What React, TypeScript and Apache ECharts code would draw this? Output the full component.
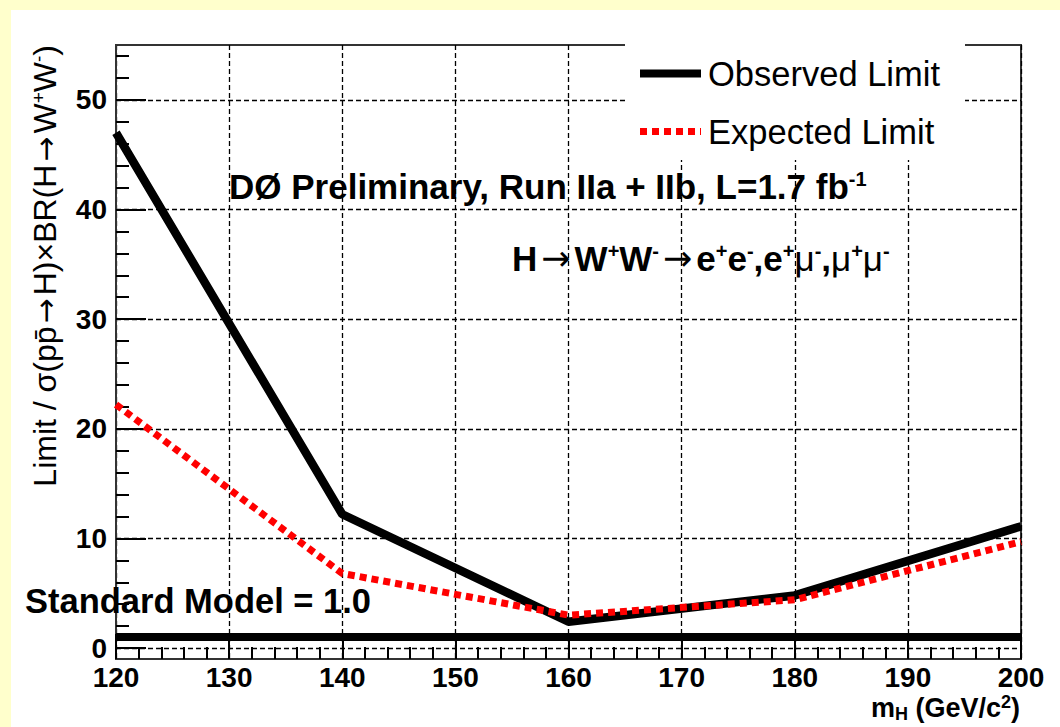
import React, { useEffect, useRef } from "react";
import * as echarts from "echarts";

// ---- data ----
const massPoints = [120, 140, 160, 180, 200];
const observedLimit = [47.0, 12.2, 2.4, 4.8, 11.1];
const expectedLimit = [22.2, 6.8, 3.0, 4.4, 9.7];
const standardModel = 1.0;
const xRange = [120, 200];
const yRange = [-1, 55];
const yMajorTicks = [0, 10, 20, 30, 40, 50];
const yMinorTicks = [2, 4, 6, 8, 12, 14, 16, 18, 22, 24, 26, 28, 32, 34, 36, 38, 42, 44, 46, 48, 52, 54];
const seriesNames = ["Observed Limit", "Expected Limit"];

const FONT = "'Liberation Sans', Arial, Helvetica, sans-serif";
const ARROW_FONT = "'DejaVu Sans', 'Liberation Sans', sans-serif";

export default function App() {
  const ref = useRef<HTMLDivElement>(null);

  useEffect(() => {
    document.body.style.margin = "0";
    const chart = echarts.init(ref.current!, null, { renderer: "svg" });
    const gridLine = { show: true, lineStyle: { color: "#000", width: 1.3, type: [5, 3] } };
    const hiddenSymbol = { color: "rgba(0,0,0,0)", opacity: 0, borderWidth: 0 };

    chart.setOption({
      animation: false,
      backgroundColor: "transparent",
      grid: {
        left: 116, right: 39, top: 45, bottom: 68,
        show: true, borderColor: "#333", borderWidth: 2, backgroundColor: "transparent",
        outerBoundsMode: "none",
      },
      legend: {
        data: [
          { name: seriesNames[0], itemStyle: hiddenSymbol, lineStyle: { width: 8, color: "#000", type: "solid" } },
          { name: seriesNames[1], itemStyle: hiddenSymbol, lineStyle: { width: 7, color: "#f00", type: [7, 5] } },
        ],
        orient: "vertical",
        left: 625,
        top: 35,
        padding: [21, 25, 11, 11],
        itemWidth: 61,
        itemHeight: 34,
        itemGap: 23,
        backgroundColor: "#fff",
        borderWidth: 0,
        selectedMode: false,
        textStyle: { fontSize: 34.5, fontFamily: FONT, color: "#000", padding: [0, 0, 0, 2] },
      },
      xAxis: {
        type: "value",
        min: xRange[0],
        max: xRange[1],
        interval: 10,
        axisLine: { show: true, onZero: false, lineStyle: { color: "#333", width: 2 } },
        axisTick: { show: true, inside: true, length: 25, lineStyle: { color: "#000", width: 2 } },
        minorTick: { show: true, splitNumber: 5, length: 12, lineStyle: { color: "#000", width: 2 } },
        axisLabel: { fontSize: 28, fontWeight: "bold", color: "#000", fontFamily: FONT, margin: 4 },
        splitLine: gridLine,
      },
      yAxis: [
        {
          type: "value",
          min: yRange[0],
          max: yRange[1],
          position: "left",
          axisLine: { show: true, onZero: false, lineStyle: { color: "#333", width: 2 } },
          axisTick: { show: true, inside: true, length: 30, customValues: yMajorTicks, lineStyle: { color: "#000", width: 2 } },
          axisLabel: { customValues: yMajorTicks, fontSize: 28, fontWeight: "bold", color: "#000", fontFamily: FONT, margin: 9 },
          minorTick: { show: false },
          splitLine: gridLine,
        },
        {
          type: "value",
          min: yRange[0],
          max: yRange[1],
          position: "left",
          axisLine: { show: false, onZero: false },
          axisTick: { show: true, inside: true, length: 13, customValues: yMinorTicks, lineStyle: { color: "#000", width: 2 } },
          axisLabel: { show: false },
          minorTick: { show: false },
          splitLine: { show: false },
        },
      ],
      series: [
        {
          name: seriesNames[0],
          type: "line",
          data: massPoints.map((m, i) => [m, observedLimit[i]]),
          symbol: "none",
          lineStyle: { color: "#000", width: 8.5 },
          itemStyle: { color: "#000" },
          z: 3,
        },
        {
          name: "Standard Model",
          type: "line",
          data: [[xRange[0], standardModel], [xRange[1], standardModel]],
          symbol: "none",
          lineStyle: { color: "#000", width: 8 },
          itemStyle: { color: "#000" },
          z: 3,
        },
        {
          name: seriesNames[1],
          type: "line",
          data: massPoints.map((m, i) => [m, expectedLimit[i]]),
          symbol: "none",
          lineStyle: { color: "#f00", width: 7, type: [7, 5] },
          itemStyle: { color: "#f00" },
          z: 4,
        },
      ],
      graphic: [
        {
          type: "text",
          x: 229,
          y: 186,
          z: 10,
          style: {
            text: "DØ Preliminary, Run IIa + IIb, L=1.7 fb{sup|-1}",
            fontSize: 35,
            fontWeight: "bold",
            fontFamily: FONT,
            fill: "#000",
            verticalAlign: "middle",
            rich: { sup: { fontSize: 20, fontWeight: "bold", fontFamily: FONT, verticalAlign: "top" } },
          },
        },
        {
          type: "text",
          x: 512,
          y: 258,
          z: 10,
          style: {
            text: "H{arr|→}W{sup|+}W{sup|-}{arr|→}e{sup|+}e{sup|-},e{sup|+}{mu|μ}{sup|-},{mu|μ}{sup|+}{mu|μ}{sup|-}",
            fontSize: 35,
            fontWeight: "bold",
            fontFamily: FONT,
            fill: "#000",
            verticalAlign: "middle",
            rich: {
              sup: { fontSize: 20, fontWeight: "bold", fontFamily: FONT, verticalAlign: "top" },
              mu: { fontSize: 35, fontWeight: "normal", fontFamily: FONT },
              arr: { fontSize: 35, fontWeight: "normal", fontFamily: ARROW_FONT, padding: [0, 4, 0, 4] },
            },
          },
        },
        {
          type: "text",
          x: 25,
          y: 601,
          z: 10,
          style: {
            text: "Standard Model = 1.0",
            fontSize: 34.5,
            fontWeight: "bold",
            fontFamily: FONT,
            fill: "#000",
            verticalAlign: "middle",
          },
        },
        {
          type: "text",
          x: 1020,
          y: 708,
          z: 10,
          style: {
            text: "m{sub|H} (GeV/c{sup|2})",
            fontSize: 27,
            fontWeight: "bold",
            fontFamily: FONT,
            fill: "#000",
            align: "right",
            verticalAlign: "middle",
            lineHeight: 30,
            rich: {
              sub: { fontSize: 18, fontWeight: "bold", fontFamily: FONT, verticalAlign: "bottom" },
              sup: { fontSize: 18, fontWeight: "bold", fontFamily: FONT, verticalAlign: "top" },
            },
          },
        },
        {
          type: "text",
          x: 45,
          y: 45,
          rotation: Math.PI / 2,
          z: 10,
          style: {
            text: "Limit / σ(pp\u0304{arr|→}H)×BR(H{arr|→}W{sup|+}W{sup|-})",
            fontSize: 32,
            fontFamily: FONT,
            fill: "#000",
            align: "right",
            verticalAlign: "middle",
            rich: {
              sup: { fontSize: 19, fontFamily: FONT, verticalAlign: "top" },
              arr: { fontSize: 30, fontFamily: ARROW_FONT, padding: [0, 3, 0, 3] },
            },
          },
        },
      ],
    });
    return () => chart.dispose();
  }, []);

  return (
    <div style={{ position: "relative", width: 1060, height: 727, background: "#FFFFCC", overflow: "hidden" }}>
      <div style={{ position: "absolute", left: 11, top: 10, right: 0, bottom: 0, background: "#fff" }} />
      <div ref={ref} style={{ position: "absolute", left: 0, top: 0, width: 1060, height: 727 }} />
    </div>
  );
}
